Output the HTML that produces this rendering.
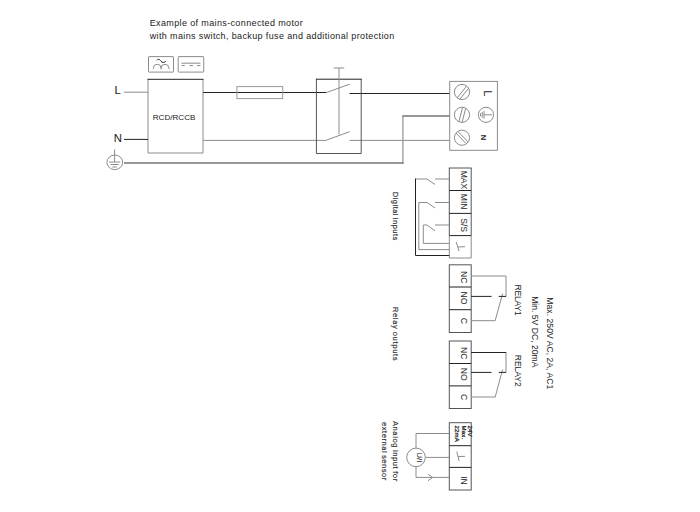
<!DOCTYPE html>
<html>
<head>
<meta charset="utf-8">
<title>Mains connection example</title>
<style>
html,body{margin:0;padding:0;background:#fff;}
body{width:700px;height:512px;overflow:hidden;position:relative;}
svg{position:absolute;left:0;top:0;display:block;}
text{font-family:"Liberation Sans",Arial,sans-serif;fill:#222;}
.t{font-size:9px;letter-spacing:0.37px;fill:#1a1a1a;}
.g{stroke:#8c8c8c;stroke-width:1;fill:none;}
.k{stroke:#222;stroke-width:1;fill:none;}
.b{stroke:#555;stroke-width:1;fill:none;}
.r{font-size:8.6px;}
.s{font-size:7.7px;fill:#333;stroke:#333;stroke-width:0.18px;word-spacing:-0.7px;}
.m{font-size:6px;letter-spacing:0.2px;stroke:#222;stroke-width:0.25px;}

</style>
</head>
<body>
<svg width="700" height="512" viewBox="0 0 700 512">
<!-- title -->
<text class="t" id="t1" x="149.700" y="26.300">Example of mains-connected motor</text>
<text class="t" id="t2" x="149.700" y="38.500">with mains switch, backup fuse and additional protection</text>

<!-- symbol boxes -->
<rect class="g" x="148.500" y="56.600" width="25" height="15.500" rx="0.500"/>
<path class="g" d="M153.300 69 V68.300 A3.900 4 0 0 1 161.100 68.300 V69 V68.300 A3.900 4 0 0 1 168.900 68.300 L169.600 69.300" stroke="#606060" stroke-width="1.100"/>
<path class="k" d="M156.800 60.300 C158.500 58.200 160 59.800 161 61.200 C162.200 62.800 164 63 165.800 61.300" stroke-width="0.800"/>
<rect class="g" x="178.200" y="56.600" width="25.500" height="15.500" rx="0.500"/>
<path class="g" d="M181.500 63.200 H200.500 M181.500 65.600 h3.300 m4.700 0 h3.500 m4 0 h3.500"/>

<!-- RCD -->
<path class="g" d="M148 79.300 V153 H203 V79.300" stroke="#888" stroke-width="1.200"/>
<path class="k" d="M147.500 79.300 H203.500" stroke-width="1.200"/>
<text id="rcd" x="152.700" y="119.700" style="font-size:8.100px">RCD/RCCB</text>
<text id="L" x="114.500" y="94.200" style="font-size:11.400px">L</text>
<text id="N" x="113.800" y="141.800" style="font-size:11.400px">N</text>
<path class="g" d="M124 92.200 H148" stroke="#a0a0a0"/>
<path class="k" d="M124 139.400 H148"/>
<!-- earth -->
<ellipse class="g" cx="114.800" cy="162.300" rx="7.900" ry="7.300"/>
<path class="g" d="M114.600 149.500 V162 M109 162 h11.200 M110.500 164.500 h8.200 M112.300 167 h4.600"/>
<path d="M402.900 163.500 V116" stroke="#999" stroke-width="1.300" fill="none"/>
<path d="M124 163 H403.500 M402.300 116 H450" stroke="#777" stroke-width="1.400" fill="none"/>

<!-- L / N lines -->
<path class="k" d="M203 92.500 H326.300 M349.600 93.500 H450"/>
<rect x="236.900" y="86.600" width="45.800" height="12" fill="none" stroke="#999" stroke-width="1"/>
<path class="g" d="M203 140.400 H326.300 M349.600 140.400 H450" stroke="#777"/>
<!-- switch -->
<path class="b" d="M316.400 79.200 V153.500 H361.200 V79.200" stroke="#666"/>
<path class="k" d="M315.900 79.200 H361.700" stroke-width="1.200"/>
<path class="g" d="M339 68 V134.500 M333.800 68 H344.200" stroke="#aaa" stroke-width="1.300"/>
<path class="g" d="M326.300 92.600 L349.600 84.200 M326.300 140.200 L349.600 131.700" stroke="#666"/>

<!-- mains terminal -->
<rect class="g" x="449.700" y="81.400" width="47.700" height="68.900" stroke="#888"/>
<g class="g" stroke="#666">
<circle cx="462" cy="92" r="7.600"/>
<path d="M457 98 L466.500 86.300 M459.500 99.500 L468.700 88.200"/>
<circle cx="462" cy="114.800" r="7.600"/>
<path d="M459 121.500 L462.500 107.600 M462.200 122 L465.700 108.200"/>
<circle cx="462" cy="137.700" r="7.600"/>
<path d="M456 133 L466 143.500 M458 131.500 L468.200 142"/>
<circle cx="486" cy="114.800" r="7.600"/>
<path d="M492 114.800 H484 M484 110.800 v8 M482.200 112 v5.600 M480.500 113.300 v3"/>
</g>
<text transform="translate(483.700,90.200) rotate(90)" style="font-size:11px">L</text>
<text transform="translate(481.200,134.700) rotate(90)" style="font-size:7.500px;font-weight:bold">N</text>

<!-- digital inputs -->
<path class="g" d="M449.300 235.500 V258 H471.200 V235.500" stroke="#aaa"/>
<path class="b" d="M449.300 168 V235.500 M471.200 168 V235.500" stroke="#555"/>
<path class="b" d="M448.800 168 H471.700" stroke="#777" stroke-width="1.200"/>
<path class="k" d="M449.300 190.500 h21.900 M449.300 213.400 h21.900 M449.300 235.600 h21.900"/>
<text class="r" transform="translate(461,170.700) rotate(90)">MAX</text>
<text class="r" transform="translate(461,193.800) rotate(90)">MIN</text>
<text class="r" transform="translate(461,218.200) rotate(90)">S/S</text>
<path class="g" d="M456.200 242 L459 251 M457.800 247 L465 246.700" stroke="#666"/>
<path class="g" d="M415.500 179 H427 L435 184.500 M435 179 H449.300" stroke="#999"/>
<path class="k" d="M415.500 178.500 V255.500 H449.300"/>
<path class="g" d="M427 202.500 H418.800 V249.600 H449.300" stroke="#a0a0a0" stroke-width="1.300"/>
<path class="g" d="M427 202.500 L435 208 M435 202.500 H449.300" stroke="#999"/>
<path class="g" d="M427 225 H423.300 V243.400 H449.300" stroke="#808080"/>
<path class="g" d="M427 225 L435 230.800 M435 225 H449.300" stroke="#999"/>
<text class="s" transform="translate(393,191.800) rotate(90)" textLength="48.500" lengthAdjust="spacing">Digital inputs</text>

<!-- relay 1 -->
<g class="b" stroke="#555">
<rect x="449.300" y="264.800" width="21.900" height="67.700"/>
<path d="M449.300 287 h21.900 M449.300 309.700 h21.900" stroke="#222"/>
</g>
<text class="r" transform="translate(461,271) rotate(90)">NC</text>
<text class="r" transform="translate(461,291.500) rotate(90)">NO</text>
<text class="r" transform="translate(461,317.700) rotate(90)">C</text>
<path class="g" d="M471.200 276 H506 V296.500 M471.200 320.700 H495.200 L502.600 293.600" stroke="#777"/>
<path class="k" d="M471.200 296.400 H491.500 M498.700 296.400 H506"/>
<text class="r" transform="translate(515.200,284.500) rotate(90)" textLength="31.300" lengthAdjust="spacing">RELAY1</text>

<!-- relay 2 -->
<g class="b" stroke="#555">
<rect x="449.300" y="341" width="21.900" height="67.500"/>
<path d="M449.300 363.500 h21.900 M449.300 385.900 h21.900" stroke="#222"/>
</g>
<text class="r" transform="translate(461,347) rotate(90)">NC</text>
<text class="r" transform="translate(461,367.800) rotate(90)">NO</text>
<text class="r" transform="translate(461,394) rotate(90)">C</text>
<path class="g" d="M506 352.500 V372.500 M471.200 397 H495.200 L502.600 369.500" stroke="#777"/>
<path class="k" d="M471.200 352.500 H506.200 M471.200 372.400 H491.500 M498.700 372.400 H506"/>
<text class="r" transform="translate(515.200,354.800) rotate(90)" textLength="32" lengthAdjust="spacing">RELAY2</text>

<text class="r" transform="translate(531.700,296.200) rotate(90)" textLength="71.200" lengthAdjust="spacing">Min. 5V DC, 20mA</text>
<text class="r" transform="translate(547.400,297.300) rotate(90)" textLength="92" lengthAdjust="spacing">Max. 250V AC, 2A, AC1</text>
<text class="s" transform="translate(393,306.700) rotate(90)" textLength="54" lengthAdjust="spacing">Relay outputs</text>

<!-- analog -->
<g class="b" stroke="#555">
<rect x="449.300" y="422.700" width="21.900" height="67.300"/>
<path d="M449.300 445.700 h21.900 M449.300 467.400 h21.900" stroke="#222"/>
</g>
<text class="m" transform="translate(467.500,425.500) rotate(90)">24V</text>
<text class="m" transform="translate(461.500,425.500) rotate(90)">Max.</text>
<text class="m" transform="translate(455,425.500) rotate(90)">22mA</text>
<path class="g" d="M456.800 451.500 L459.100 461 M458 456.600 L465 456.300" stroke="#606060"/>
<text class="r" transform="translate(460.600,476.200) rotate(90)">IN</text>
<path class="g" d="M449.300 433.500 H416 V448 M416 467 V477.400 H449.300 M428 474.200 L432.700 477.400 L428 480.700 M425.500 457.400 H449.300" stroke="#999"/>
<circle class="g" cx="416" cy="457.400" r="9.300" stroke="#909090"/>
<text transform="translate(417,452.300) rotate(90)" style="font-size:8px">U/I</text>
<text class="s" transform="translate(393.200,420.900) rotate(90)" textLength="60.300" lengthAdjust="spacing">Analog input for</text>
<text class="s" transform="translate(382.200,422) rotate(90)" textLength="58.400" lengthAdjust="spacing">external sensor</text>
</svg>
</body>
</html>
